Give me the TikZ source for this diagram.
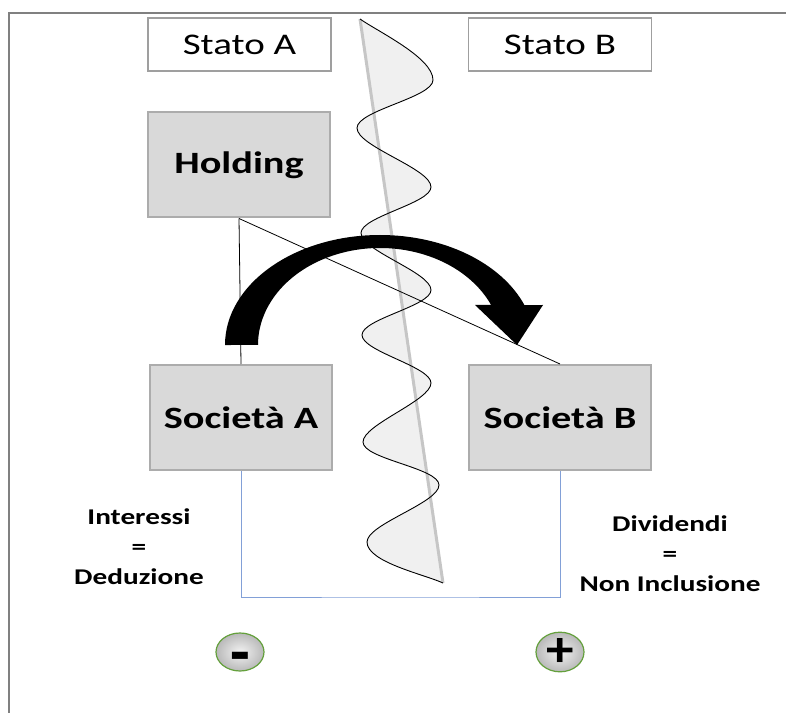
\documentclass[tikz,border=0pt]{standalone}
\usepackage{fontspec}
\setmainfont{Carlito}
\usepackage{graphicx}
\usetikzlibrary{positioning}
\usetikzlibrary{calc}
\usetikzlibrary{shapes}
\definecolor{boxgray}{RGB}{217,217,217}
\definecolor{framegray}{RGB}{128,128,128}
\definecolor{lineblue}{RGB}{130,160,215}
\definecolor{ringgreen}{RGB}{100,160,60}
\newcommand{\sx}[1]{\scalebox{1.3}[1]{#1}}
% border line between the two states
\def\confine{(360,694) to [out=-35, in=90, looseness=0.6] (433,633)
	to [out=-90, in=90, looseness=0.5] (357,585)
	to [out=-90, in=90, looseness=0.5] (431,526)
	to [out=-90, in=90, looseness=0.5] (361,480)
	to [out=-90, in=90, looseness=0.5] (431,423)
	to [out=-90, in=90, looseness=0.5] (362,378)
	to [out=-90, in=90, looseness=0.5] (431,330)
	to [out=-90, in=90, looseness=0.5] (363,271)
	to [out=-90, in=90, looseness=0.5] (439,228)
	to [out=-90, in=90, looseness=0.5] (367,171)
	to [out=-90, in=155, looseness=0.6] (443,130)}

\begin{document}
\begin{tikzpicture}[x=1pt, y=1pt,
	stato/.style={draw=gray!75, line width=1.8pt, fill=white, minimum width=183pt, minimum height=53pt, font=\fontsize{30}{36}\selectfont},
	ente/.style={draw=gray!65, line width=2pt, fill=boxgray, minimum width=182pt, minimum height=105pt, font=\fontsize{31}{36}\selectfont\bfseries},
	segno/.style={ellipse, draw=ringgreen, line width=1.2pt, inner color=gray!10, outer color=gray!55, minimum width=48pt, minimum height=38pt, inner sep=0pt, font=\fontsize{46}{46}\selectfont\bfseries},
	nota/.style={align=center, font=\fontsize{22.5}{30}\selectfont\bfseries}]
					\useasboundingbox (0,0) rectangle (786,713);
					\draw [framegray, line width=1.2pt] (786,700) -- (9,700) -- (9,0);

					\node [stato] (statoA) at (239.5,668.5) {\sx{Stato A}};
					\node [stato] (statoB) at (560,668.5) {\sx{Stato B}};
					\node [ente] (holding) at (239,548) {\sx{Holding}};
					\node [ente] (socA) at (241,295.5) {\sx{Società A}};
					\node [ente] (socB) at (560,295.5) {\sx{Società B}};

					\fill [gray!12] \confine -- cycle;
					\draw [gray!45, line width=3pt] (360,694) -- (443,130);
					\draw [line width=0.9pt] \confine;

					\draw [line width=0.8pt] (holding.south) -- (socA.north);
					\draw [line width=0.8pt] (holding.south) -- (socB.north);

					\coordinate (fondo) at (400,116);
					\draw [lineblue, line width=1pt] (socA.south) |- (fondo) -| (socB.south);

					\fill (225,368) arc [start angle=180, end angle={asin(40/110)}, x radius=155, y radius=110]
						-- (543,408) -- (517,368) -- (475,408) -- ({380+122*cos(asin(40/97))},408)
						arc [start angle={asin(40/97)}, end angle=180, x radius=122, y radius=97] -- cycle;

					\node [nota] (interessi) at (139,166) {\sx{Interessi}\\\sx{=}\\\sx{Deduzione}};
					\node [nota] (dividendi) at (670,159) {\sx{Dividendi}\\\sx{=}\\\sx{Non Inclusione}};

					\node [segno] (meno) at (240,61) {\raisebox{-23pt}[0pt][0pt]{\scalebox{1.4}[1.5]{-}}};
					\node [segno] (piu) at (560,61) {\scalebox{1.2}[1.1]{+}};
				\end{tikzpicture}
\end{document}
